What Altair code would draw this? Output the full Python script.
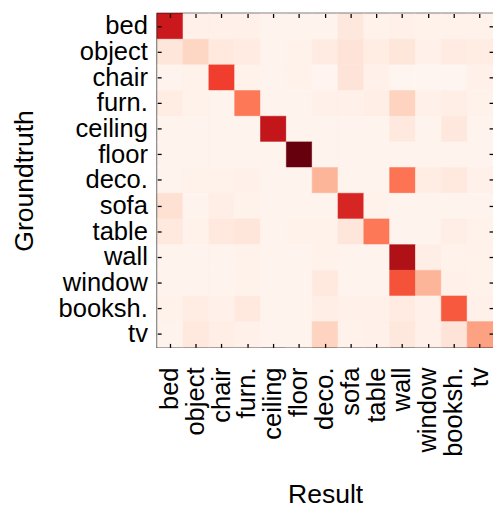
import altair as alt
import pandas as pd

classes = ["bed", "object", "chair", "furn.", "ceiling", "floor", "deco.",
           "sofa", "table", "wall", "window", "booksh.", "tv"]

# rows = ground truth, columns = result (normalized rates)
row_bed     = [0.75, 0.03, 0.03, 0.03, 0.01, 0.01, 0.01, 0.08, 0.02, 0.03, 0.02, 0.02, 0.02]
row_object  = [0.09, 0.16, 0.07, 0.06, 0.01, 0.02, 0.06, 0.10, 0.05, 0.09, 0.03, 0.06, 0.05]
row_chair   = [0.01, 0.02, 0.62, 0.02, 0.01, 0.02, 0.005, 0.10, 0.03, 0.0, 0.0, 0.0, 0.03]
row_furn    = [0.05, 0.02, 0.01, 0.46, 0.01, 0.01, 0.03, 0.03, 0.04, 0.17, 0.03, 0.04, 0.02]
row_ceiling = [0.01, 0.01, 0.01, 0.01, 0.78, 0.01, 0.01, 0.01, 0.01, 0.07, 0.01, 0.08, 0.01]
row_floor   = [0.01, 0.01, 0.01, 0.01, 0.01, 1.00, 0.01, 0.01, 0.01, 0.01, 0.01, 0.01, 0.01]
row_deco    = [0.01, 0.02, 0.02, 0.03, 0.01, 0.01, 0.27, 0.01, 0.01, 0.47, 0.05, 0.07, 0.03]
row_sofa    = [0.12, 0.01, 0.04, 0.02, 0.01, 0.01, 0.01, 0.71, 0.02, 0.01, 0.01, 0.01, 0.01]
row_table   = [0.07, 0.02, 0.07, 0.09, 0.01, 0.02, 0.02, 0.09, 0.46, 0.01, 0.01, 0.04, 0.02]
row_wall    = [0.01, 0.01, 0.01, 0.02, 0.01, 0.01, 0.02, 0.01, 0.01, 0.84, 0.04, 0.02, 0.02]
row_window  = [0.01, 0.01, 0.01, 0.02, 0.01, 0.01, 0.07, 0.01, 0.01, 0.57, 0.27, 0.03, 0.02]
row_booksh  = [0.02, 0.05, 0.03, 0.07, 0.01, 0.01, 0.04, 0.03, 0.03, 0.06, 0.03, 0.55, 0.03]
row_tv      = [0.01, 0.07, 0.04, 0.03, 0.01, 0.01, 0.17, 0.02, 0.03, 0.08, 0.03, 0.10, 0.33]

rows = [row_bed, row_object, row_chair, row_furn, row_ceiling, row_floor, row_deco,
        row_sofa, row_table, row_wall, row_window, row_booksh, row_tv]

# Brewer "Reds" colormap stops
reds_stops = [0, 0.125, 0.25, 0.375, 0.5, 0.625, 0.75, 0.875, 1.0]
reds_colors = ["#fff5f0", "#fee0d2", "#fcbba1", "#fc9272", "#fb6a4a",
               "#ef3b2c", "#cb181d", "#a50f15", "#67000d"]

records = []
for gi, g in enumerate(classes):
    for ri, r in enumerate(classes):
        records.append({"Groundtruth": g, "Result": r, "value": rows[gi][ri]})
df = pd.DataFrame(records)

FONT = "Liberation Sans"

x_enc = alt.X("Result:N", sort=classes, scale=alt.Scale(paddingInner=0, paddingOuter=0),
              axis=alt.Axis(title="Result", labelAngle=270, labelAlign="right", labelBaseline="middle",
                            labelFontSize=26, labelPadding=20, ticks=False, domain=False,
                            titleFontSize=27, titleFontWeight="normal", titlePadding=26,
                            labelColor="black", titleColor="black", labelFont=FONT, titleFont=FONT))
y_enc = alt.Y("Groundtruth:N", sort=classes, scale=alt.Scale(paddingInner=0, paddingOuter=0),
              axis=alt.Axis(title="Groundtruth", labelFontSize=26, labelPadding=10, ticks=False,
                            domain=False, titleFontSize=27, titleFontWeight="normal", titlePadding=20,
                            labelColor="black", titleColor="black", labelFont=FONT, titleFont=FONT))

cscale = alt.Scale(domain=reds_stops, range=reds_colors)

heat = alt.Chart(df).mark_rect(strokeWidth=0.6).encode(
    x=x_enc, y=y_enc,
    color=alt.Color("value:Q", scale=cscale, legend=None),
    stroke=alt.Stroke("value:Q", scale=cscale, legend=None),
)

def tick_axis(orient):
    return alt.Axis(orient=orient, offset=-4, tickSize=4, tickWidth=1.3, tickColor="black",
                    labels=False, domain=False, title=None, grid=False)

ticks1 = alt.Chart(df).mark_rect(opacity=0).encode(
    x=alt.X("Result:N", sort=classes, axis=tick_axis("bottom")),
    y=alt.Y("Groundtruth:N", sort=classes, axis=tick_axis("left")),
)
ticks2 = alt.Chart(df).mark_rect(opacity=0).encode(
    x=alt.X("Result:N", sort=classes, axis=tick_axis("top")),
    y=alt.Y("Groundtruth:N", sort=classes, axis=tick_axis("right")),
)

chart = alt.layer(heat, ticks1, ticks2).resolve_axis(
    x="independent", y="independent"
).properties(
    width=342, height=340,
    autosize=alt.AutoSizeParams(type="none"),
    padding={"left": 152, "top": 1, "right": 0, "bottom": 160},
).configure_view(stroke="black", strokeWidth=1.5)

chart.save("out.html", embed_options={"renderer": "svg", "actions": False})
